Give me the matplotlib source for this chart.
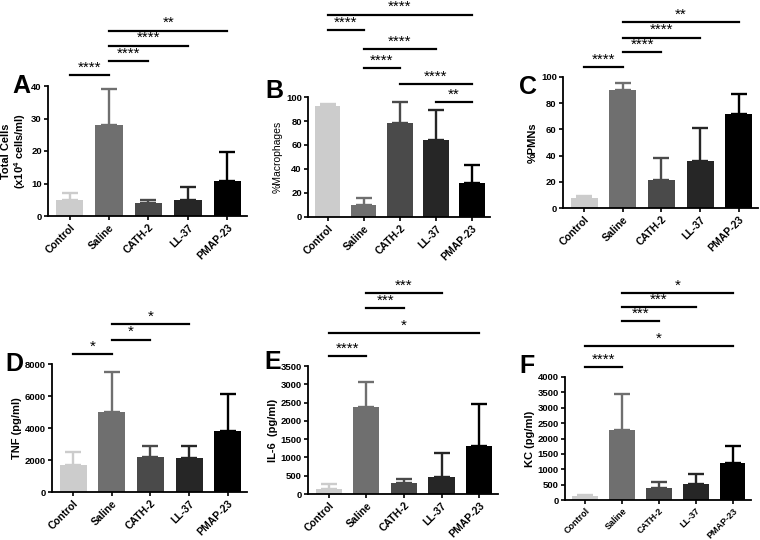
import matplotlib
matplotlib.use('Agg')
import matplotlib.pyplot as plt
import matplotlib.transforms as mtransforms
import numpy as np

plt.rcParams['font.family'] = ['Liberation Sans', 'DejaVu Sans']
plt.rcParams['mathtext.fontset'] = 'custom'
plt.rcParams['mathtext.rm'] = 'Liberation Sans:bold'
plt.rcParams['mathtext.bf'] = 'Liberation Sans:bold'
plt.rcParams['mathtext.default'] = 'rm'

groups = ['Control', 'Saline', 'CATH-2', 'LL-37', 'PMAP-23']
bar_colors = ['#cccccc', '#6f6f6f', '#4a4a4a', '#262626', '#000000']

# mean values and upper error (SD) per panel
total_cells = [4.8, 28.0, 4.0, 5.0, 10.7]
total_cells_err = [2.2, 11.2, 1.0, 3.8, 8.9]
macrophages = [92.5, 10.0, 78.5, 64.5, 28.0]
macrophages_err = [2.0, 5.5, 17.0, 25.0, 15.0]
pmns = [7.5, 90.0, 21.5, 36.0, 72.0]
pmns_err = [2.0, 5.5, 17.0, 25.0, 15.0]
tnf = [1700, 5000, 2200, 2150, 3800]
tnf_err = [800, 2500, 700, 750, 2300]
il6 = [150, 2380, 310, 470, 1310]
il6_err = [130, 690, 90, 650, 1160]
kc = [120, 2270, 380, 520, 1210]
kc_err = [40, 1180, 190, 320, 550]

# significance brackets: (group i, group j, label, height in axes fraction)
sig_a = [(0, 1, '****', 1.085), (1, 2, '****', 1.19), (1, 3, '****', 1.31), (1, 4, '**', 1.425)]
sig_b = [(0, 4, '****', 1.685), (0, 1, '****', 1.555), (1, 3, '****', 1.40),
         (1, 2, '****', 1.242), (2, 4, '****', 1.108), (3, 4, '**', 0.958)]
sig_c = [(0, 1, '****', 1.076), (1, 2, '****', 1.19), (1, 3, '****', 1.30), (1, 4, '**', 1.42)]
sig_d = [(0, 1, '*', 1.078), (1, 2, '*', 1.19), (1, 3, '*', 1.31)]
sig_e = [(0, 1, '****', 1.078), (0, 4, '*', 1.258), (1, 2, '***', 1.453), (1, 3, '***', 1.57)]
sig_f = [(0, 1, '****', 1.081), (0, 4, '*', 1.252), (1, 2, '***', 1.455),
         (1, 3, '***', 1.569), (1, 4, '*', 1.683)]

W, H = 760, 540
fig = plt.figure(figsize=(W / 100, H / 100), dpi=100)


def px_axes(left, right, top, bottom):
    return fig.add_axes([left / W, 1 - bottom / H, (right - left) / W, (bottom - top) / H])


panels = [
    # letter, letter pos (px), axes box (px), values, errs, yticks, ylabel, bold label, sig
    ('A', (12, 93), (48, 247, 86, 216), total_cells, total_cells_err, [0, 10, 20, 30, 40],
     'Total Cells\n(x10$^{4}$ cells/ml)', True, sig_a),
    ('B', (265, 98), (308, 490, 97, 217), macrophages, macrophages_err, [0, 20, 40, 60, 80, 100],
     '%Macrophages', False, sig_b),
    ('C', (519, 94), (563, 758, 77, 208), pmns, pmns_err, [0, 20, 40, 60, 80, 100],
     '%PMNs', True, sig_c),
    ('D', (5, 371), (52, 247, 364, 492), tnf, tnf_err, [0, 2000, 4000, 6000, 8000],
     'TNF (pg/ml)', True, sig_d),
    ('E', (264, 369), (308, 498, 366, 494), il6, il6_err, list(range(0, 3501, 500)),
     'IL-6  (pg/ml)', True, sig_e),
    ('F', (519, 373), (565, 751, 377, 500), kc, kc_err, list(range(0, 4001, 500)),
     'KC (pg/ml)', True, sig_f),
]

x = np.arange(len(groups))
for letter, lpos, box, vals, errs, yticks, ylabel, bold, sig in panels:
    ax = px_axes(*box)
    ax.bar(x, vals, width=0.7, color=bar_colors, zorder=2)
    for xi, v, e, c in zip(x, vals, errs, bar_colors):
        ax.errorbar(xi, v, yerr=[[0], [e]], fmt='none', ecolor=c, capsize=6,
                    elinewidth=1.7, capthick=1.7, zorder=1)
    ax.set_xlim(-0.55, 4.5)
    ax.set_ylim(0, yticks[-1])
    ax.set_yticks(yticks)
    ax.set_xticks(x)
    xfs = 6.5 if letter == 'F' else 7.5
    ax.set_xticklabels(groups, rotation=45, ha='right', rotation_mode='anchor',
                       fontsize=xfs, fontweight='bold')
    for t in ax.get_yticklabels():
        t.set_fontsize(6.8)
        t.set_fontweight('bold')
    ax.spines['top'].set_visible(False)
    ax.spines['right'].set_visible(False)
    ax.spines['left'].set_linewidth(1.3)
    ax.spines['bottom'].set_linewidth(1.3)
    ax.tick_params(axis='both', width=1.2, length=3, pad=1.5)
    ax.set_ylabel(ylabel, fontsize=8 if bold else 7.5,
                  fontweight='bold' if bold else 'normal', labelpad=2,
                  linespacing=1.1)

    trans = mtransforms.blended_transform_factory(ax.transData, ax.transAxes)
    for i, j, label, yf in sig:
        ax.plot([i, j], [yf, yf], color='black', lw=1.6, transform=trans, clip_on=False)
        ax.text((i + j) / 2, yf + 0.005, label, transform=trans, ha='center', va='bottom',
                fontsize=11, clip_on=False)

    fig.text(lpos[0] / W, 1 - lpos[1] / H, letter, fontsize=18, fontweight='bold',
             ha='left', va='baseline')

fig.savefig('out.png', dpi=100)
